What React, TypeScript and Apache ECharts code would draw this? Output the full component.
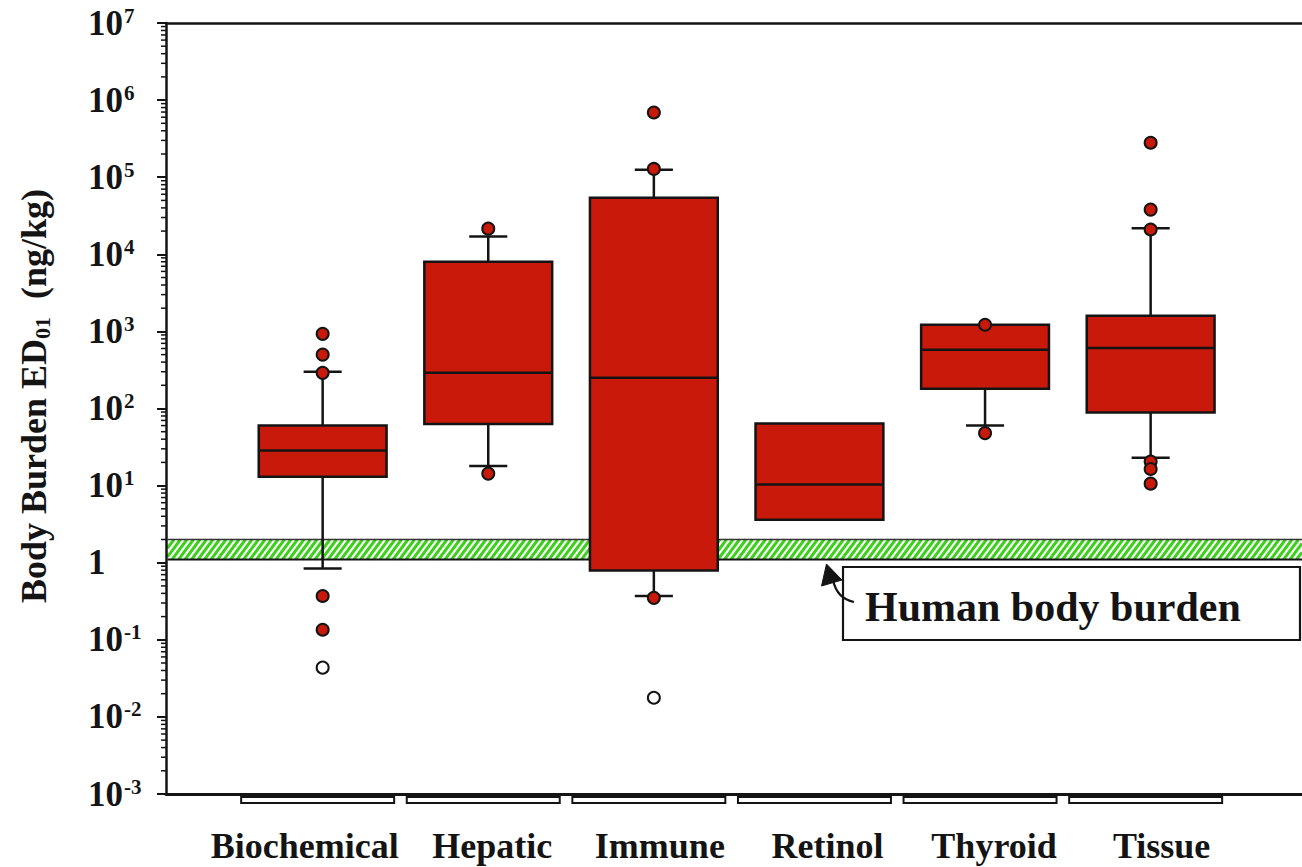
import React, { useEffect, useRef } from 'react';
import * as echarts from 'echarts';

// ---------- data ----------
const categories = ['Biochemical', 'Hepatic', 'Immune', 'Retinol', 'Thyroid', 'Tissue'];
const whiskerLow: (number | null)[] = [0.84, 18, 0.37, null, 60, 23];
const q1 = [13, 63, 0.79, 3.6, 181, 89];
const median = [28.5, 290, 250, 10.3, 580, 610];
const q3 = [60, 8000, 54000, 64, 1220, 1600];
const whiskerHigh: (number | null)[] = [300, 17000, 125000, null, null, 21700];

const outlierCat = [0, 0, 0, 0, 0, 1, 1, 2, 2, 2, 4, 4, 5, 5, 5, 5, 5, 5];
const outlierVal = [930, 500, 290, 0.37, 0.135, 21500, 14.3, 690000, 128000, 0.35, 1220, 48, 280000, 38000, 21000, 20.5, 16.4, 10.6];
const openCat = [0, 2];
const openVal = [0.0435, 0.0177];

const bandLow = 1.1;
const bandHigh = 2.0;
const annotationText = 'Human body burden';
const yTitleMain = 'Body Burden ED';
const yTitleSub = '01';
const yTitleUnit = '  (ng/kg)';
const yMinExp = -3;
const yMaxExp = 7;

// ---------- layout / style ----------
const X_MIN = 0.054;
const X_MAX = 6.914;
const RED = '#c8190b';
const INK = '#141414';
const FONT = 'Liberation Serif';
const labelNudge = [-18, 4, 6, 8, 9, 11];

export default function App() {
  const ref = useRef<HTMLDivElement>(null);

  useEffect(() => {
    if (!ref.current) return;
    const chart = echarts.init(ref.current, undefined, { renderer: 'svg' });

    const boxData = categories.map((_, i) => [i + 1, q1[i], median[i], q3[i]]);
    const outliers = outlierCat.map((c, k) => [c + 1, outlierVal[k]]);
    const opens = openCat.map((c, k) => [c + 1, openVal[k]]);
    const minorTicks: number[][] = [];
    for (let e = yMinExp; e < yMaxExp; e++) {
      for (let k = 2; k <= 9; k++) minorTicks.push([X_MIN, k * Math.pow(10, e)]);
    }
    const labelData = categories.map((_, i) => [i + 1, Math.pow(10, yMinExp)]);

    const option: any = {
      animation: false,
      backgroundColor: '#ffffff',
      grid: { left: 166, right: 0, top: 23, bottom: 73, containLabel: false },
      xAxis: [
        {
          type: 'value', min: X_MIN, max: X_MAX, position: 'bottom', z: 10,
          axisLine: { show: true, lineStyle: { color: INK, width: 3 } },
          axisTick: { show: false }, axisLabel: { show: false }, splitLine: { show: false },
        },
        {
          type: 'value', min: X_MIN, max: X_MAX, position: 'top', z: 10,
          axisLine: { show: true, lineStyle: { color: INK, width: 2.5 } },
          axisTick: { show: false }, axisLabel: { show: false }, splitLine: { show: false },
        },
      ],
      yAxis: {
        type: 'log', logBase: 10, min: Math.pow(10, yMinExp), max: Math.pow(10, yMaxExp), interval: 1, z: 10,
        axisLine: { show: true, lineStyle: { color: INK, width: 2.5 } },
        axisTick: { show: true, inside: false, length: 9, lineStyle: { color: INK, width: 2 } },
        splitLine: { show: false },
        axisLabel: {
          show: true, align: 'left', margin: 78,
          formatter: (v: number) => {
            const e = Math.round(Math.log10(v));
            return e === 0 ? '{b|1}' : `{b|10}{s|${e}}`;
          },
          rich: {
            b: { fontFamily: FONT, fontWeight: 'bold', fontSize: 35, color: INK, lineHeight: 36 },
            s: { fontFamily: FONT, fontWeight: 'bold', fontSize: 21, color: INK, lineHeight: 20, verticalAlign: 'top', padding: [0, 0, 0, 1] },
          },
        },
      },
      series: [
        {
          type: 'custom', name: 'band', z: 1, clip: false,
          data: [[X_MIN, bandLow, bandHigh]],
          encode: { x: 0, y: [1, 2] },
          renderItem: (params: any, api: any) => {
            const cs = params.coordSys;
            const x0 = cs.x + 1.5;
            const x1 = cs.x + cs.width;
            const yT = api.coord([api.value(0), api.value(2)])[1];
            const yB = api.coord([api.value(0), api.value(1)])[1];
            const h = yB - yT;
            const dx = h * 0.75;
            const children: any[] = [
              { type: 'rect', shape: { x: x0, y: yT, width: x1 - x0, height: h }, style: { fill: '#ffffff' } },
            ];
            for (let s = x0 - dx; s < x1; s += 6.5) {
              let ax = s, ay = yB, bx = s + dx, by = yT;
              if (ax < x0) { ay = yB - (x0 - ax) * (h / dx); ax = x0; }
              if (bx > x1) { by = yT + (bx - x1) * (h / dx); bx = x1; }
              children.push({ type: 'line', shape: { x1: ax, y1: ay, x2: bx, y2: by }, style: { stroke: '#3fd01f', lineWidth: 3 } });
            }
            children.push({ type: 'line', shape: { x1: x0, y1: yT, x2: x1, y2: yT }, style: { stroke: '#333', lineWidth: 1.5 } });
            children.push({ type: 'line', shape: { x1: x0, y1: yB, x2: x1, y2: yB }, style: { stroke: INK, lineWidth: 2 } });
            return { type: 'group', children };
          },
        },
        {
          type: 'custom', name: 'boxes', z: 3, clip: false,
          data: boxData,
          encode: { x: 0, y: [1, 2, 3] },
          renderItem: (params: any, api: any) => {
            const i = params.dataIndex;
            const xv = api.value(0);
            const halfW = 0.386;
            const capW = 0.115;
            const pQ1 = api.coord([xv, api.value(1)]);
            const pMed = api.coord([xv, api.value(2)]);
            const pQ3 = api.coord([xv, api.value(3)]);
            const xl = api.coord([xv - halfW, api.value(2)])[0];
            const xr = api.coord([xv + halfW, api.value(2)])[0];
            const cl = api.coord([xv - capW, api.value(2)])[0];
            const cr = api.coord([xv + capW, api.value(2)])[0];
            const xc = pMed[0];
            const children: any[] = [];
            const lineStyle = { stroke: INK, lineWidth: 2.5 };
            const hi = whiskerHigh[i];
            const lo = whiskerLow[i];
            if (hi != null) {
              const yh = api.coord([xv, hi])[1];
              children.push({ type: 'line', shape: { x1: xc, y1: pQ3[1], x2: xc, y2: yh }, style: lineStyle });
              children.push({ type: 'line', shape: { x1: cl, y1: yh, x2: cr, y2: yh }, style: lineStyle });
            }
            if (lo != null) {
              const yl = api.coord([xv, lo])[1];
              children.push({ type: 'line', shape: { x1: xc, y1: pQ1[1], x2: xc, y2: yl }, style: lineStyle });
              children.push({ type: 'line', shape: { x1: cl, y1: yl, x2: cr, y2: yl }, style: lineStyle });
            }
            children.push({
              type: 'rect',
              shape: { x: xl, y: pQ3[1], width: xr - xl, height: pQ1[1] - pQ3[1] },
              style: { fill: RED, stroke: INK, lineWidth: 2.5 },
            });
            children.push({ type: 'line', shape: { x1: xl, y1: pMed[1], x2: xr, y2: pMed[1] }, style: lineStyle });
            return { type: 'group', children };
          },
        },
        {
          type: 'scatter', name: 'outliers', z: 4,
          data: outliers, symbol: 'circle', symbolSize: 12,
          itemStyle: { color: RED, borderColor: INK, borderWidth: 2, opacity: 1 },
        },
        {
          type: 'scatter', name: 'open', z: 4,
          data: opens, symbol: 'circle', symbolSize: 12,
          itemStyle: { color: '#ffffff', borderColor: INK, borderWidth: 2, opacity: 1 },
        },
        {
          type: 'custom', name: 'minorTicks', z: 11, clip: false, silent: true,
          data: minorTicks,
          encode: { x: 0, y: 1 },
          renderItem: (params: any, api: any) => {
            const cs = params.coordSys;
            const y = api.coord([api.value(0), api.value(1)])[1];
            return { type: 'line', shape: { x1: cs.x - 5, y1: y, x2: cs.x, y2: y }, style: { stroke: INK, lineWidth: 1.5 } };
          },
        },
        {
          type: 'custom', name: 'categoryLabels', z: 11, clip: false, silent: true,
          data: labelData,
          encode: { x: 0, y: 1 },
          renderItem: (params: any, api: any) => {
            const i = params.dataIndex;
            const cs = params.coordSys;
            const xc = api.coord([api.value(0), api.value(1)])[0];
            const axisY = cs.y + cs.height;
            return {
              type: 'group',
              children: [
                {
                  type: 'rect',
                  shape: { x: xc - 5 - 76.5, y: axisY + 3, width: 153, height: 6 },
                  style: { fill: '#ffffff', stroke: INK, lineWidth: 2 },
                },
                {
                  type: 'text',
                  x: xc + labelNudge[i], y: axisY + 52,
                  style: {
                    text: categories[i], fontFamily: FONT, fontWeight: 'bold', fontSize: 36,
                    fill: INK, align: 'center', verticalAlign: 'middle',
                  },
                },
              ],
            };
          },
        },
      ],
      graphic: [
        {
          type: 'text', x: 34, y: 396, rotation: Math.PI / 2, z: 20,
          style: {
            text: `{t|${yTitleMain}}{u|${yTitleSub}}{t|${yTitleUnit}}`,
            align: 'center', verticalAlign: 'middle',
            rich: {
              t: { fontFamily: FONT, fontWeight: 'bold', fontSize: 36, fill: INK, lineHeight: 38 },
              u: { fontFamily: FONT, fontWeight: 'bold', fontSize: 22, fill: INK, lineHeight: 38, verticalAlign: 'bottom' },
            },
          },
        },
        {
          type: 'rect', z: 20,
          shape: { x: 843, y: 567, width: 457, height: 73 },
          style: { fill: '#ffffff', stroke: INK, lineWidth: 2.2 },
        },
        {
          type: 'text', x: 865, y: 607, z: 21,
          style: { text: annotationText, fontFamily: FONT, fontWeight: 'bold', fontSize: 42, fill: INK, align: 'left', verticalAlign: 'middle' },
        },
        {
          type: 'bezierCurve', z: 21,
          shape: { x1: 833, y1: 580, cpx1: 836, cpy1: 594, cpx2: 844, cpy2: 600, x2: 854, y2: 602 },
          style: { stroke: INK, lineWidth: 2.2, fill: null },
        },
        {
          type: 'polygon', z: 21,
          shape: { points: [[826.5, 564], [821.5, 586], [842, 580]] },
          style: { fill: INK, stroke: INK, lineWidth: 1 },
        },
      ],
    };

    chart.setOption(option);
    return () => chart.dispose();
  }, []);

  return (
    <div
      ref={ref}
      style={{ position: 'fixed', left: 0, top: 0, width: 1302, height: 867, background: '#ffffff' }}
    />
  );
}
